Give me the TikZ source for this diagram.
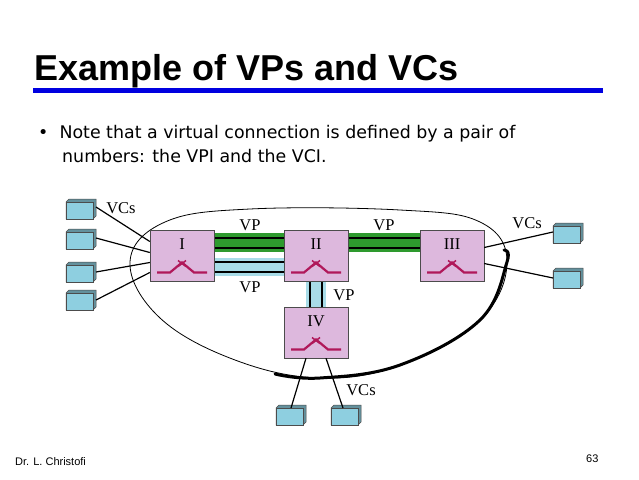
\documentclass[tikz,border=0pt]{standalone}
\usepackage{fontspec}
\setmainfont{Liberation Serif}
\newfontfamily\arialf{Liberation Sans}
\newfontfamily\verd{DejaVu Sans}
\definecolor{pinkbox}{HTML}{DDB8DD}
\definecolor{swc}{HTML}{B0185A}
\definecolor{vpgreen}{HTML}{2E9A2E}
\definecolor{vpblue}{HTML}{A8DCE8}
\definecolor{term}{HTML}{8ECFE0}
\definecolor{titleblue}{HTML}{0000E0}
\begin{document}
\begin{tikzpicture}[x=1pt,y=-1pt,
  sw/.style={draw=black!70,fill=pinkbox,minimum width=64pt,minimum height=51pt,inner sep=0pt},
  lbl/.style={font=\fontsize{16.5}{16.5}\selectfont,inner sep=0pt},
  wire/.style={line width=1.2pt}]
\useasboundingbox (0,0) rectangle (639,479);
\fill[white] (0,0) rectangle (639,479);
% title
\node[anchor=base west,inner sep=0pt,font=\arialf\bfseries\fontsize{36}{36}\selectfont] (title) at (34,80) {Example of VPs and VCs};
\fill[titleblue] (33,88) rectangle (603,93);
\node[anchor=base west,inner sep=0pt,font=\verd\fontsize{17.4}{17.4}\selectfont] (b1) at (38,138) {\textbullet\ \ Note that a virtual connection is defined by a pair of};
\node[anchor=base west,inner sep=0pt,font=\verd\fontsize{17.4}{17.4}\selectfont] (b2) at (62,162) {numbers: the VPI and the VCI.};
% big loop
\draw[line width=0.8pt] plot[smooth cycle,tension=0.65] coordinates {(130,262) (165,222) (250,209) (400,210) (480,222) (507,262) (480,320) (400,365) (320,378) (235,360) (160,318)};
\draw[line width=3pt,line cap=round] plot[smooth,tension=0.65] coordinates {(504,250) (507,262) (480,320) (400,365) (320,378) (275,374)};
% VPs
\fill[vpgreen] (214,233) rectangle (420,252);
\draw[wire] (214,238) -- (420,238) (214,248) -- (420,248);
\fill[vpblue] (214,258) rectangle (284,276);
\draw[wire] (214,262) -- (284,262) (214,272) -- (284,272);
\fill[vpblue] (306,281) rectangle (326,307);
\draw[wire] (310,281) -- (310,307) (322,281) -- (322,307);
% switches
\node[sw] (s1) at (182,255.5) {};
\node[sw] (s2) at (316,255.5) {};
\node[sw] (s3) at (452,255.5) {};
\node[sw] (s4) at (316,332.5) {};
\foreach \s/\t in {s1/I,s2/II,s3/III,s4/IV}{
  \node[lbl] at ([yshift=11pt]\s.center) {\t};
  \begin{scope}[shift={(\s.center)}]
    \draw[swc,line width=2.2pt] (-25,17) -- (-12,17) -- (0,7) -- (12,17) -- (25,17);
    \draw[swc,line width=1.5pt] (-4,5) -- (4,11) (4,5) -- (-4,11);
  \end{scope}}
% labels
\node[lbl] (vp1) at (250,225) {VP};
\node[lbl] (vp2) at (384,225) {VP};
\node[lbl] (vp3) at (250,287) {VP};
\node[lbl] (vp4) at (344,295) {VP};
\node[lbl] (vc1) at (121,208) {VCs};
\node[lbl] (vc2) at (527,223) {VCs};
\node[lbl] (vc3) at (361,390) {VCs};
% terminals
\tikzset{tm/.pic={\fill[term!70!black,draw=black!70,line width=0.5pt] (0,0) -- (3,-3) -- (30,-3) -- (30,14) -- (27,17) -- (0,17) -- cycle;
  \fill[term,draw=black!70,line width=0.5pt] (0,0) rectangle (27,17);}}
\foreach \n/\x/\y in {t1/66/202,t2/66/232,t3/66/265,t4/66/293,t5/553/226,t6/553/271,t7/276/408,t8/331/408}{
  \pic at (\x,\y) {tm};
  \coordinate (\n) at (\x,\y);}
\coordinate (a1) at (96,207); \coordinate (a2) at (96,238); \coordinate (a3) at (96,272); \coordinate (a4) at (96,300);
\draw[wire] (a1) -- ([yshift=14pt]s1.west);
\draw[wire] (a2) -- ([yshift=3pt]s1.west);
\draw[wire] (a3) -- ([yshift=-7pt]s1.west);
\draw[wire] (a4) -- ([yshift=-17pt]s1.west);
\draw[wire] ([yshift=8pt]s3.east) -- ([yshift=-6pt]t5);
\draw[wire] ([yshift=-8pt]s3.east) -- ([yshift=-7pt]t6);
\draw[wire] ([xshift=-10pt]s4.south) -- ([xshift=15pt]t7);
\draw[wire] ([xshift=10pt]s4.south) -- ([xshift=12pt]t8);
% footer
\node[anchor=base west,inner sep=0pt,font=\arialf\fontsize{11}{11}\selectfont] (f1) at (15,465) {Dr. L. Christofi};
\node[anchor=base west,inner sep=0pt,font=\arialf\fontsize{11}{11}\selectfont] (f2) at (586,462) {63};
\end{tikzpicture}
\end{document}
